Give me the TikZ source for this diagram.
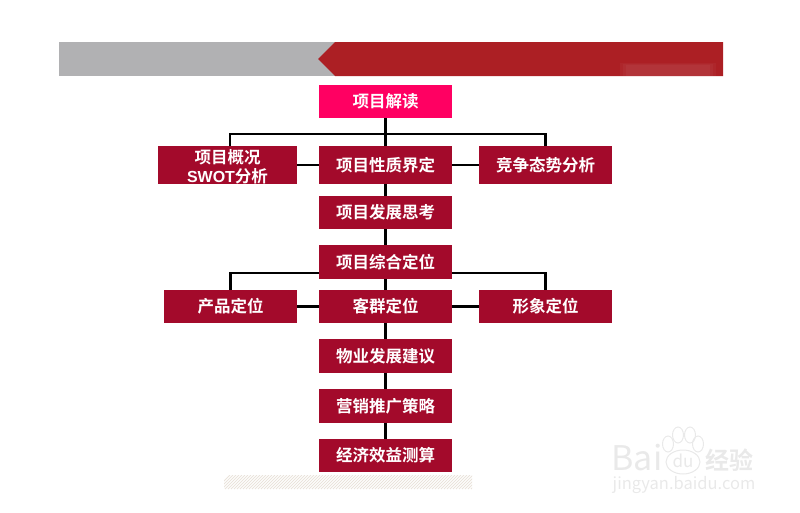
\documentclass[tikz,border=0pt]{standalone}
\usepackage{fontspec}
\setmainfont{Noto Sans CJK SC}[BoldFont=* Bold]
\newfontfamily\latinbold{Liberation Sans Bold}
\usetikzlibrary{positioning}
\definecolor{boxred}{HTML}{A30A2B}
\definecolor{barred}{HTML}{AC1F24}
\definecolor{bargray}{HTML}{B1B1B3}
\definecolor{toppink}{HTML}{FF0062}
\definecolor{hatchtan}{HTML}{EAE3DB}
\definecolor{markgray}{HTML}{E9E9E9}
\tikzset{
    stagebox/.style={fill=boxred,text=white,minimum width=133pt,minimum height=33.5pt,inner sep=0pt,font=\fontsize{16.5}{20}\selectfont\bfseries},
    sidebox/.style={stagebox,minimum height=38pt},
    link/.style={draw=black,line width=2.2pt},
    markfont/.style={text=markgray,inner sep=0pt}
}
\begin{document}
\begin{tikzpicture}[x=1pt,y=-1pt]
\useasboundingbox(0,0)rectangle(800,512);
% header bar
\fill[bargray](59,42)rectangle(336,76);
\fill[barred](318,59)--(335,42)--(723,42)--(723,76)--(335,76)--cycle;
\foreach \d in {0,3,6}
{
    \fill[white,opacity=.035](620+\d,63+\d/3)rectangle(716-\d,76);
}
% hatched band
\begin{scope}
\clip(224,475)rectangle(472,489);
\foreach \x in {224,227,...,490}
{
    \draw[hatchtan,line width=1pt](\x-8,489)--(\x+6,475);
}
\end{scope}
% boxes
\node[stagebox,fill=toppink](reading)at(385.5,101.5){项目解读};
\node[sidebox](nature)at(385.5,165){项目性质界定};
\node[sidebox,minimum width=139pt,label={[align=center,text=white,inner sep=0pt,yshift=-1.5pt,font=\fontsize{16.5}{19.5}\selectfont\bfseries]center:项目概况\\{\latinbold\fontsize{16}{19.5}\selectfont SWOT}分析}](overview)at(227.5,165){};
\node[sidebox](rival)at(545.5,165){竞争态势分析};
\node[stagebox](thinking)at(385.5,212.5){项目发展思考};
\node[stagebox](position)at(385.5,262){项目综合定位};
\node[stagebox](client)at(385.5,306.5){客群定位};
\node[stagebox](product)at(230.5,306.5){产品定位};
\node[stagebox](brand)at(545.5,306.5){形象定位};
\node[stagebox](advice)at(385.5,356){物业发展建议};
\node[stagebox](market)at(385.5,406){营销推广策略};
\node[stagebox](finance)at(385.5,455.5){经济效益测算};
% connectors
\coordinate(busa)at(385.5,134);
\coordinate(busleft)at(230,146);
\coordinate(busb)at(319,273);
\coordinate(busc)at(452,273);
\draw[link](reading)--(nature);
\draw[link](busleft)|-(busa)-|(rival.north);
\draw[link](overview)--(nature);
\draw[link](nature)--(rival);
\draw[link](nature)--(thinking);
\draw[link](thinking)--(position);
\draw[link](position)--(client);
\draw[link](product)--(client);
\draw[link](client)--(brand);
\draw[link](product.north)|-(busb);
\draw[link](brand.north)|-(busc);
\draw[link](client)--(advice);
\draw[link](advice)--(market);
\draw[link](market)--(finance);
% watermark
\node[markfont,font=\fontsize{34}{34}\selectfont](bai)at(637,458){Bai};
\draw[markgray,line width=1pt,fill=white](683,462)ellipse(17 and 12);
\node[markfont,font=\fontsize{17}{17}\selectfont](du)at(683,461){du};
\foreach \x/\y in {678/435,690/435,668/444,698/444}
{
    \draw[markgray,line width=1pt](\x,\y)ellipse(5.5 and 8);
}
\node[markfont,font=\fontsize{24}{24}\selectfont\bfseries](jingyan)at(729,460){经验};
\node[markfont,font=\fontsize{16.5}{17}\selectfont](site)at(684,485){jingyan.baidu.com};
\end{tikzpicture}
\end{document}
